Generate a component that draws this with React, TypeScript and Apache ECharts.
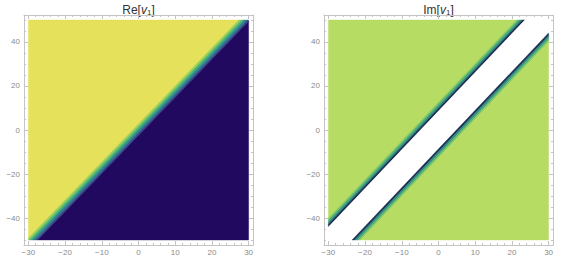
import React, { useEffect, useRef } from 'react';
import * as echarts from 'echarts';

// ---- data ----
const xDomain = [-30, 30];
const yDomain = [-50, 50];
const xMajorTicks = [-30, -20, -10, 0, 10, 20, 30];
const yMajorTicks = [-40, -20, 0, 20, 40];
const xMinorTicks = [-30, -28, -26, -24, -22, -20, -18, -16, -14, -12, -10, -8, -6, -4, -2, 0, 2, 4, 6, 8, 10, 12, 14, 16, 18, 20, 22, 24, 26, 28, 30];
const yMinorTicks = [-50, -45, -40, -35, -30, -25, -20, -15, -10, -5, 0, 5, 10, 15, 20, 25, 30, 35, 40, 45, 50];

// Re[v1]: contour boundary centre line x = slope * y + intercept
const reCentre = { slope: 0.578, intercept: -0.1 };
const reBandEdges = [-1.5, -0.75, 0, 0.75, 1.5];
const reBandColors = ['#e6e15b', '#9ccf56', '#4cb46c', '#26898c', '#35518b', '#21095f'];

// Im[v1]: white strip around x = slope * y + intercept
const imCentre = { slope: 0.569, intercept: 0 };
const imBandEdges = [-7.3, -6.8, -6.2, -5.6, -4.9, 4.9, 5.6, 6.2, 6.8, 7.3];
const imBandColors = ['#b7dc64', '#92cd5e', '#52b468', '#2a8883', '#1b3050', '#ffffff', '#1b3050', '#2a8883', '#52b468', '#92cd5e', '#b7dc64'];

const titles = ['Re', 'Im'];

// ---- geometry helpers ----
type Pt = [number, number];
function clip(poly: Pt[], xmin: number, xmax: number, ymin: number, ymax: number): Pt[] {
  const edges: [(p: Pt) => boolean, (a: Pt, b: Pt) => Pt][] = [
    [(p) => p[0] >= xmin, (a, b) => { const t = (xmin - a[0]) / (b[0] - a[0]); return [xmin, a[1] + t * (b[1] - a[1])]; }],
    [(p) => p[0] <= xmax, (a, b) => { const t = (xmax - a[0]) / (b[0] - a[0]); return [xmax, a[1] + t * (b[1] - a[1])]; }],
    [(p) => p[1] >= ymin, (a, b) => { const t = (ymin - a[1]) / (b[1] - a[1]); return [a[0] + t * (b[0] - a[0]), ymin]; }],
    [(p) => p[1] <= ymax, (a, b) => { const t = (ymax - a[1]) / (b[1] - a[1]); return [a[0] + t * (b[0] - a[0]), ymax]; }],
  ];
  let out = poly;
  for (const [inside, inter] of edges) {
    const inp = out;
    out = [];
    for (let i = 0; i < inp.length; i++) {
      const cur = inp[i];
      const prev = inp[(i + inp.length - 1) % inp.length];
      if (inside(cur)) {
        if (!inside(prev)) out.push(inter(prev, cur));
        out.push(cur);
      } else if (inside(prev)) {
        out.push(inter(prev, cur));
      }
    }
    if (!out.length) break;
  }
  return out;
}

function bandPolys(centre: { slope: number; intercept: number }, edges: number[], colors: string[]) {
  const c = (y: number) => centre.slope * y + centre.intercept;
  const Y0 = -80, Y1 = 80;
  const res: { pts: Pt[]; color: string }[] = [];
  for (let i = 0; i < colors.length; i++) {
    const lo = i === 0 ? -300 : edges[i - 1];
    const hi = i === edges.length ? 300 : edges[i];
    const pts: Pt[] = [[c(Y0) + lo, Y0], [c(Y1) + lo, Y1], [c(Y1) + hi, Y1], [c(Y0) + hi, Y0]];
    res.push({ pts: clip(pts, xDomain[0], xDomain[1], yDomain[0], yDomain[1]), color: colors[i] });
  }
  return res.filter((r) => r.pts.length >= 3);
}

const FRAME = '#c4c4c4';
const LABEL = '#8a8a8a';
const FONT = 'Liberation Sans, Arial, sans-serif';
const fmt = (v: number) => String(v).replace('-', '\u2212');

export default function App() {
  const ref = useRef<HTMLDivElement>(null);
  useEffect(() => {
    if (!ref.current) return;
    const chart = echarts.init(ref.current, undefined, { renderer: 'svg' });
    const panels = [bandPolys(reCentre, reBandEdges, reBandColors), bandPolys(imCentre, imBandEdges, imBandColors)];
    const gridLefts = [24, 324];
    const xPad = 1.2, yPad = 2.27;
    const grids: any[] = [];
    const xAxes: any[] = [];
    const yAxes: any[] = [];
    const series: any[] = [];
    const graphics: any[] = [];
    panels.forEach((polys, g) => {
      grids.push({ left: gridLefts[g], top: 15, width: 229, height: 230 });
      const base = { gridIndex: g, type: 'value', splitLine: { show: false } };
      const xr = { min: xDomain[0] - xPad, max: xDomain[1] + xPad };
      const yr = { min: yDomain[0] - yPad, max: yDomain[1] + yPad };
      const xi = xAxes.length;
      const yi = yAxes.length;
      xAxes.push(
        { ...base, ...xr, position: 'bottom', axisLine: { show: true, onZero: false, lineStyle: { color: FRAME, width: 1 } },
          axisTick: { show: true, inside: true, length: 4, customValues: xMajorTicks, lineStyle: { color: FRAME } },
          axisLabel: { show: true, customValues: xMajorTicks, formatter: fmt, color: LABEL, fontSize: 8, fontFamily: FONT, margin: 3 } },
        { ...base, ...xr, position: 'bottom', axisLine: { show: false, onZero: false },
          axisTick: { show: true, inside: true, length: 2, customValues: xMinorTicks, lineStyle: { color: FRAME } }, axisLabel: { show: false } },
        { ...base, ...xr, position: 'top', axisLine: { show: true, onZero: false, lineStyle: { color: FRAME, width: 1 } },
          axisTick: { show: true, inside: true, length: 4, customValues: xMajorTicks, lineStyle: { color: FRAME } }, axisLabel: { show: false } },
        { ...base, ...xr, position: 'top', axisLine: { show: false, onZero: false },
          axisTick: { show: true, inside: true, length: 2, customValues: xMinorTicks, lineStyle: { color: FRAME } }, axisLabel: { show: false } },
      );
      yAxes.push(
        { ...base, ...yr, position: 'left', axisLine: { show: true, onZero: false, lineStyle: { color: FRAME, width: 1 } },
          axisTick: { show: true, inside: true, length: 4, customValues: yMajorTicks, lineStyle: { color: FRAME } },
          axisLabel: { show: true, customValues: yMajorTicks, formatter: fmt, color: LABEL, fontSize: 8, fontFamily: FONT, margin: 4 } },
        { ...base, ...yr, position: 'left', axisLine: { show: false, onZero: false },
          axisTick: { show: true, inside: true, length: 2, customValues: yMinorTicks, lineStyle: { color: FRAME } }, axisLabel: { show: false } },
        { ...base, ...yr, position: 'right', axisLine: { show: true, onZero: false, lineStyle: { color: FRAME, width: 1 } },
          axisTick: { show: true, inside: true, length: 4, customValues: yMajorTicks, lineStyle: { color: FRAME } }, axisLabel: { show: false } },
        { ...base, ...yr, position: 'right', axisLine: { show: false, onZero: false },
          axisTick: { show: true, inside: true, length: 2, customValues: yMinorTicks, lineStyle: { color: FRAME } }, axisLabel: { show: false } },
      );
      series.push({
        type: 'custom',
        coordinateSystem: 'cartesian2d',
        xAxisIndex: xi,
        yAxisIndex: yi,
        silent: true,
        data: polys.map((p, i) => [p.pts[0][0], p.pts[0][1], i]),
        renderItem: (params: any, api: any) => {
          const p = polys[params.dataIndex];
          return {
            type: 'polygon',
            shape: { points: p.pts.map((q) => api.coord(q)) },
            style: { fill: p.color, stroke: p.color, lineWidth: 0.4 },
          };
        },
      });
      graphics.push({
        type: 'text',
        x: gridLefts[g] + 114.5,
        y: 9.5,
        style: {
          text: titles[g] + '[{i|v}{s|1}]',
          font: `12px ${FONT}`,
          fill: '#333',
          align: 'center',
          verticalAlign: 'middle',
          rich: {
            i: { fontStyle: 'italic', fontSize: 12, fontFamily: FONT, fill: '#333' },
            s: { fontSize: 8, fontFamily: FONT, fill: '#333', padding: [6, 0, 0, 0] },
          },
        },
      });
    });
    chart.setOption({
      animation: false,
      grid: grids,
      xAxis: xAxes,
      yAxis: yAxes,
      series,
      graphic: graphics,
    });
    return () => chart.dispose();
  }, []);
  return <div ref={ref} style={{ position: 'absolute', left: 0, top: 0, width: 563, height: 260, background: '#fff' }} />;
}
